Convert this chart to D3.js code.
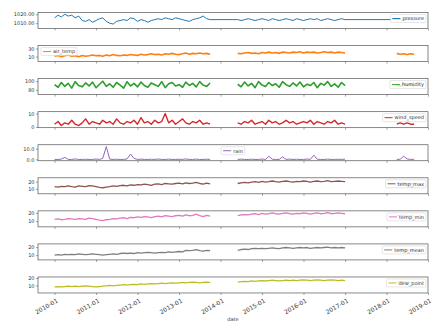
<!DOCTYPE html>
<html>
<head>
<meta charset="utf-8">
<script src="https://cdn.jsdelivr.net/npm/d3@7"></script>
<style>
body { margin: 0; background: #fff; }
svg text { font-family: "DejaVu Sans", sans-serif; }
</style>
</head>
<body>
<div id="chart"></div>
<script>
// monthly readings, three recorded stretches
const DATES = [
  "2010-01","2010-02","2010-03","2010-04","2010-05","2010-06","2010-07","2010-08","2010-09","2010-10","2010-11","2010-12",
  "2011-01","2011-02","2011-03","2011-04","2011-05","2011-06","2011-07","2011-08","2011-09","2011-10","2011-11","2011-12",
  "2012-01","2012-02","2012-03","2012-04","2012-05","2012-06","2012-07","2012-08","2012-09","2012-10","2012-11","2012-12",
  "2013-01","2013-02","2013-03","2013-04","2013-05","2013-06","2013-07","2013-08","2013-09","2013-10",
  "2014-06","2014-07","2014-08","2014-09","2014-10","2014-11","2014-12",
  "2015-01","2015-02","2015-03","2015-04","2015-05","2015-06","2015-07","2015-08","2015-09","2015-10","2015-11","2015-12",
  "2016-01","2016-02","2016-03","2016-04","2016-05","2016-06","2016-07","2016-08","2016-09","2016-10","2016-11","2016-12",
  "2017-01",
  "2018-04","2018-05","2018-06","2018-07","2018-08","2018-09"
];

const PRESSURE = [
  1016,1019,1017,1020,1018,1019,1016,1018,1013,1012,1014,1011,1013,1015,1016,1012,1010,1009,1012,1013,1014,1013,1016,1015,1012,1014,1013,1011,1013,1014,1015,1014,1016,1015,1014,1016,1015,1014,1013,1012,1014,1015,1016,1018,1015,1014,
  1014,1013,1014,1015,1014,1013,1014,1015,1014,1013,1015,1014,1013,1014,1015,1014,1013,1015,1014,1013,1014,1015,1014,1015,1013,1014,1015,1014,1013,1014,1015,1014,
  1014,1014,1013,1014,1014,1013
];
const AIR_TEMP = [
  11,13,10,12,14,11,12,10,13,11,12,14,12,13,11,14,12,15,13,12,14,13,15,14,13,16,14,15,17,15,16,14,17,16,18,16,15,17,19,16,18,17,19,17,18,16,
  18,17,19,20,18,19,17,20,19,21,19,20,18,21,20,19,21,20,22,19,21,20,21,19,20,22,20,21,19,21,20,19,
  18,16,17,15,17,16
];
const HUMIDITY = [
  92,86,97,88,95,84,99,90,87,96,89,98,85,93,100,88,94,86,97,91,84,99,89,95,87,98,90,86,96,92,88,99,85,94,97,89,92,86,98,90,95,87,99,91,88,96,
  93,87,98,89,95,85,99,91,88,97,90,94,86,99,92,88,96,89,98,87,93,90,97,85,95,91,99,88,94,86,97,90,
  92,88,95,90,93,89
];
const WIND_SPEED = [
  2,4,1,3,2,5,2,1,3,6,2,4,3,2,5,3,4,2,6,3,2,4,3,5,2,7,3,4,2,5,3,4,10,3,5,2,4,6,3,2,4,3,5,2,3,2,
  3,2,4,3,5,2,3,4,2,5,3,4,2,3,5,3,4,2,3,4,3,5,2,4,3,2,4,3,5,2,3,2,
  2,3,2,3,2,2
];
const RAIN = [
  0,0,0.3,2,0,0,0.5,0,0,0.2,0,0,0.4,0,1,12,0.3,0,0.2,0,0,0.5,5,1,0,0.3,0,0,0.2,0,0.4,0,0,0.3,0,0,0.2,0,0.5,0,0,0.3,0,0,0.2,0,
  0,0.3,0,0,0.2,0,0,0.4,0,3,0.2,0,0,2.5,0,0.3,0,0.2,0,0,0.4,0,4,0.2,0,0,0.3,0,0,0.2,0,0.3,
  0,0.2,3,0.5,0,0.2
];
const TEMP_MAX = [
  13,12.5,13.5,13,14,13,12.5,14,13.5,13,14.5,14,13,12,11.5,12.5,13,14,13.5,14.5,15,14,15.5,15,16,15.5,16.5,16,15,16.5,17,16,17.5,17,16.5,17.5,18,17,18.5,17.5,18,19,17.5,16.5,18,17,
  17.5,18.5,19,18.5,19.5,20,19,20.5,19.5,20,21,20,19.5,20.5,21,20,19.5,20.5,20,21,20.5,19.5,20.5,21,20,20.5,21.5,20,20.5,21,20.5,20,
  18,17.5,18,17,17.5,17
];
const TEMP_MIN = [
  12,12.5,11.5,12,13,12.5,12,13,12.5,12,13.5,13,12,11,10.5,11.5,12,13,12.5,13.5,14,13,14.5,14,15,14.5,15.5,15,14,15.5,16,15,16.5,16,15.5,16.5,17,16,17.5,16.5,17,18.5,16.5,15.5,17,16,
  16.5,17.5,18,17.5,18.5,19,18,19.5,18.5,19,20,19,18.5,19.5,20,19,18.5,19.5,19,20,19.5,18.5,19.5,20,19,19.5,20.5,19,19.5,20,19.5,19,
  17,16.5,17,16,16.5,16
];
const TEMP_MEAN = [
  10,10.5,10,11,10.5,11,10.5,11.5,11,10.5,11,11.5,11,10.5,10,10.5,11,11.5,11,12,12.5,12,12.5,12,13,12.5,13,13.5,13,12.5,13,13.5,13,14,13.5,14,14.5,14,16,15.5,16,17,15.5,15,16,15.5,
  16,17,17.5,17,18,18.5,18,18.5,18,18.5,19,18.5,18,19,19.5,19,18.5,19,19.5,19,19.5,18.5,19,19.5,19,19.5,20,19,19.5,19,19.5,19,
  17,16.5,17,16.5,16,16.5
];
const DEW_POINT = [
  8,8.5,8,8.5,9,8.5,9,8.5,9,9.5,9,8.5,8,8.5,9,9.5,10,9.5,10,10.5,11,10.5,11,11.5,11,12,11.5,12,12.5,12,12.5,13,12.5,13,13.5,13,13.5,14,13.5,14,14.5,14,13.5,14,14.5,14,
  14.5,15,15.5,15,16,15.5,16,16.5,16,16.5,17,16.5,16,16.5,17,16.5,17,16.5,17,17.5,17,16.5,17,17.5,17,16.5,17,17.5,17,16.5,17,16.5,
  15,14.5,15,14.5,14,14.5
];

const SERIES_NAMES = ["pressure", "air_temp", "humidity", "wind_speed", "rain", "temp_max", "temp_min", "temp_mean", "dew_point"];
const SERIES_VALUES = [PRESSURE, AIR_TEMP, HUMIDITY, WIND_SPEED, RAIN, TEMP_MAX, TEMP_MIN, TEMP_MEAN, DEW_POINT];
const Y_TICKS = [[1010, 1020], [10, 30], [80, 100], [0, 10], [0, 10], [10, 20], [10, 20], [10, 20], [10, 20]];
const X_TICKS = ["2010-01","2011-01","2012-01","2013-01","2014-01","2015-01","2016-01","2017-01","2018-01","2019-01"];

// panel look: colour, y domain, where the legend sits
const PANELS = [
  {color: "#1f77b4", domain: [1004, 1022], legend: "right", fmt: ".2f", width: 1, joinGaps: true},
  {color: "#ff7f0e", domain: [-2, 37], legend: "left", fmt: "d", width: 1.6},
  {color: "#2ca02c", domain: [69, 106], legend: "right", fmt: "d", width: 1.6},
  {color: "#d62728", domain: [-0.6, 11.4], legend: "right", fmt: "d", width: 1.4},
  {color: "#9467bd", domain: [-1.2, 13.7], legend: "center", fmt: ".1f", width: 1},
  {color: "#8c564b", domain: [3, 25.5], legend: "right", fmt: "d", width: 1.3},
  {color: "#e377c2", domain: [2.6, 22.6], legend: "right", fmt: "d", width: 1.3},
  {color: "#7f7f7f", domain: [4, 24], legend: "right", fmt: "d", width: 1.3},
  {color: "#bcbd22", domain: [0, 21.3], legend: "right", fmt: "d", width: 1.3}
];

const FRAME_WIDTH = 433;
const FRAME_HEIGHT = 323;
const MARGINS = {left: 38, right: 5, top: 12.5};
const PANEL_H = 16;
const PANEL_STEP = 33.06;

const parseMonth = d3.timeParse("%Y-%m");
const dates = DATES.map(parseMonth);

const FRAME = d3.select("#chart")
  .append("svg")
    .attr("width", FRAME_WIDTH)
    .attr("height", FRAME_HEIGHT);

const X_SCALE = d3.scaleTime()
  .domain([new Date(2009, 7, 8), new Date(2019, 0, 1)])
  .range([MARGINS.left, FRAME_WIDTH - MARGINS.right]);

const xTickDates = X_TICKS.map(parseMonth);

PANELS.forEach((p, i) => {
  const top = MARGINS.top + i * PANEL_STEP;
  const g = FRAME.append("g").attr("transform", "translate(0," + top + ")");

  const yScale = d3.scaleLinear().domain(p.domain).range([PANEL_H, 0]);

  // rows for this series, split where months are missing
  const rows = dates.map((d, k) => ({date: d, value: SERIES_VALUES[i][k]}));
  const segments = [];
  rows.forEach((r, k) => {
    if (k === 0 || (!p.joinGaps && (r.date - rows[k - 1].date) > 45 * 864e5)) segments.push([]);
    segments[segments.length - 1].push(r);
  });

  const line = d3.line()
    .x(d => X_SCALE(d.date))
    .y(d => yScale(d.value));

  g.selectAll(".series")
    .data(segments)
    .enter()
    .append("path")
      .attr("d", line)
      .attr("fill", "none")
      .attr("stroke", p.color)
      .attr("stroke-width", p.width)
      .attr("stroke-linejoin", "round");

  // y axis
  const yAxis = g.append("g")
    .attr("transform", "translate(" + MARGINS.left + ",0)")
    .call(d3.axisLeft(yScale).tickValues(Y_TICKS[i]).tickSize(2).tickPadding(1.5).tickFormat(d3.format(p.fmt)));
  yAxis.select(".domain").remove();
  yAxis.selectAll("text").attr("font-size", "5px").attr("fill", "#333");
  yAxis.selectAll("line").attr("stroke", "#444").attr("stroke-width", 0.5);

  // x axis ticks on every panel, labels only at the bottom
  const last = i === PANELS.length - 1;
  const xAxis = g.append("g")
    .attr("transform", "translate(0," + PANEL_H + ")")
    .call(d3.axisBottom(X_SCALE).tickValues(xTickDates).tickSize(2)
      .tickFormat(last ? d3.timeFormat("%Y-%m") : ""));
  xAxis.select(".domain").remove();
  xAxis.selectAll("line").attr("stroke", "#444").attr("stroke-width", 0.5);
  if (last) {
    xAxis.selectAll("text")
      .attr("font-size", "6px")
      .attr("fill", "#333")
      .attr("text-anchor", "end")
      .attr("dy", "0.3em")
      .attr("transform", "translate(0,3) rotate(-30)");
  }

  // frame
  g.append("rect")
    .attr("x", MARGINS.left)
    .attr("y", 0)
    .attr("width", FRAME_WIDTH - MARGINS.right - MARGINS.left)
    .attr("height", PANEL_H)
    .attr("fill", "none")
    .attr("stroke", "#555")
    .attr("stroke-width", 0.7);

  // legend
  const lg = g.append("g");
  const box = lg.append("rect")
    .attr("fill", "#fff")
    .attr("fill-opacity", 0.8)
    .attr("stroke", "#ccc")
    .attr("stroke-width", 0.5)
    .attr("rx", 1);
  lg.append("line")
    .attr("x1", 2).attr("x2", 10)
    .attr("y1", 4).attr("y2", 4)
    .attr("stroke", p.color)
    .attr("stroke-width", 1);
  const txt = lg.append("text")
    .attr("x", 12)
    .attr("y", 5.8)
    .attr("font-size", "5px")
    .attr("fill", "#333")
    .text(SERIES_NAMES[i]);
  const w = 14 + txt.node().getComputedTextLength();
  box.attr("width", w).attr("height", 8);
  let lx;
  if (p.legend === "left") lx = MARGINS.left + 3;
  else if (p.legend === "center") lx = (MARGINS.left + FRAME_WIDTH - MARGINS.right - w) / 2;
  else lx = FRAME_WIDTH - MARGINS.right - w - 2;
  lg.attr("transform", "translate(" + lx + ",2)");
});

FRAME.append("text")
  .attr("x", (MARGINS.left + FRAME_WIDTH - MARGINS.right) / 2)
  .attr("y", 321)
  .attr("text-anchor", "middle")
  .attr("font-size", "5px")
  .attr("fill", "#333")
  .text("date");
</script>
</body>
</html>
